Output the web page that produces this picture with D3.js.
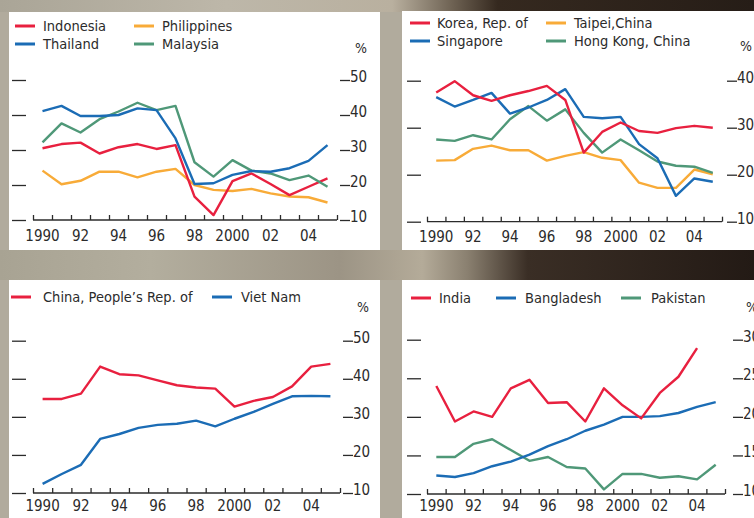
<!DOCTYPE html>
<html>
<head>
<meta charset="utf-8">
<script src="https://cdn.jsdelivr.net/npm/d3@7"></script>
<style>
  body { margin: 0; background: #b3ad9f; }
  svg { display: block; }
  text { font-family: "Liberation Sans Narrow", "DejaVu Sans Condensed", "Arial Narrow", sans-serif; fill: #2b2b2b; }
  .axis path, .axis line { stroke: #2b2b2b; stroke-width: 1.3; }
  .axis text { font-size: 15px; }
  .line { fill: none; stroke-width: 2.4; stroke-linejoin: round; }
</style>
</head>
<body>
<svg width="754" height="518"></svg>
<script>
var years = d3.range(1990, 2006);
var yearLabels = ["1990", "92", "94", "96", "98", "2000", "02", "04"];

// panel 1
var indonesia   = [30.5, 31.7, 32.1, 29.0, 30.8, 31.7, 30.3, 31.4, 16.7, 11.4, 21.1, 23.3, 20.3, 17.1, 19.5, 21.9];
var thailand    = [41.1, 42.6, 39.7, 39.7, 40.0, 41.9, 41.4, 33.3, 20.3, 20.5, 22.9, 24.0, 23.8, 24.8, 26.9, 31.4];
var philippines = [24.1, 20.2, 21.2, 23.8, 23.8, 22.2, 23.8, 24.6, 20.0, 18.6, 18.3, 18.9, 17.6, 16.7, 16.5, 15.0];
var malaysia    = [32.2, 37.6, 35.0, 38.8, 41.0, 43.5, 41.4, 42.6, 26.5, 22.4, 27.1, 24.1, 23.3, 21.4, 22.7, 19.5];
var ticks1 = [10, 20, 30, 40, 50];

// panel 2
var korea     = [37.5, 39.9, 36.9, 35.7, 36.9, 37.8, 38.9, 35.9, 24.7, 29.1, 31.1, 29.3, 28.9, 29.9, 30.4, 30.0];
var singapore = [36.5, 34.5, 35.9, 37.4, 33.0, 34.3, 35.9, 38.2, 32.3, 32.0, 32.3, 26.5, 23.5, 15.5, 19.2, 18.5];
var taipei    = [23.0, 23.1, 25.5, 26.2, 25.2, 25.2, 23.0, 24.0, 24.8, 23.6, 23.1, 18.3, 17.2, 17.2, 21.1, 20.1];
var hongkong  = [27.5, 27.2, 28.4, 27.5, 31.8, 34.6, 31.5, 33.9, 28.9, 24.7, 27.5, 25.2, 22.8, 21.9, 21.7, 20.4];
var ticks2 = [10, 20, 30, 40];

// panel 3
var china   = [34.7, 34.7, 36.1, 43.2, 41.2, 40.9, 39.6, 38.3, 37.7, 37.4, 32.7, 34.2, 35.2, 38.0, 43.2, 43.9];
var vietnam = [12.4, 15.0, 17.4, 24.2, 25.5, 27.1, 27.9, 28.2, 29.0, 27.5, 29.5, 31.3, 33.4, 35.4, 35.5, 35.4];
var ticks3 = [10, 20, 30, 40, 50];

// panel 4
var india      = [24.0, 19.4, 20.7, 20.0, 23.7, 24.8, 21.8, 21.9, 19.4, 23.7, 21.5, 19.8, 23.1, 25.2, 28.9, null];
var bangladesh = [12.4, 12.2, 12.7, 13.6, 14.2, 15.1, 16.2, 17.1, 18.2, 19.0, 20.0, 20.0, 20.1, 20.5, 21.3, 21.9];
var pakistan   = [14.8, 14.8, 16.5, 17.1, 15.7, 14.3, 14.8, 13.5, 13.3, 10.6, 12.6, 12.6, 12.1, 12.3, 11.9, 13.8];
var ticks4 = [10, 15, 20, 25, 30];

var red = "#e8203f", blue = "#1b6cb5", orange = "#f8ab38", green = "#4f9878";

var panels = [
  { box: [9, 12, 371, 238], x: [33, 337], y: [220, 80], lt: [12, 26], rt: 340, pct: [361, 53], yl: 241, ticks: ticks1,
    legend: [[15, 26, 43, "Indonesia", red, indonesia], [15, 44, 43, "Thailand", blue, thailand],
             [134, 26, 162, "Philippines", orange, philippines], [134, 44, 162, "Malaysia", green, malaysia]],
    order: [philippines, indonesia, malaysia, thailand] },
  { box: [402, 11, 352, 239], x: [427, 722], y: [221.7, 80.7], lt: [407, 421], rt: 727, pct: [746, 51], yl: 242, ticks: ticks2,
    legend: [[410, 23, 437, "Korea, Rep. of", red, korea], [410, 41, 437, "Singapore", blue, singapore],
             [546, 23, 574, "Taipei,China", orange, taipei], [546, 41, 574, "Hong Kong, China", green, hongkong]],
    order: [taipei, hongkong, singapore, korea] },
  { box: [9, 280, 371, 238], x: [33, 340], y: [493, 340.7], lt: [12, 26], rt: 343, pct: [363, 312], yl: 511, ticks: ticks3,
    legend: [[11, 297, 43, "China, People\u2019s Rep. of", red, china], [212, 297, 241, "Viet Nam", blue, vietnam]],
    order: [vietnam, china] },
  { box: [402, 280, 352, 238], x: [427, 725], y: [494, 339.7], lt: [407, 421], rt: 733, pct: [752, 312], yl: 511, ticks: ticks4,
    legend: [[411, 298, 439, "India", red, india], [496, 298, 525, "Bangladesh", blue, bangladesh],
             [621, 298, 651, "Pakistan", green, pakistan]],
    order: [pakistan, bangladesh, india] }
];

var svg = d3.select("svg");
var defs = svg.append("defs");

var g1 = defs.append("linearGradient").attr("id", "topStrip");
g1.append("stop").attr("offset", "0").attr("stop-color", "#aaa597");
g1.append("stop").attr("offset", "0.3").attr("stop-color", "#bdb7a9");
g1.append("stop").attr("offset", "0.52").attr("stop-color", "#b9b09f");
g1.append("stop").attr("offset", "0.6").attr("stop-color", "#6e6253");
g1.append("stop").attr("offset", "0.66").attr("stop-color", "#35291f");
g1.append("stop").attr("offset", "1").attr("stop-color", "#261d17");

var g2 = defs.append("linearGradient").attr("id", "midStrip");
g2.append("stop").attr("offset", "0").attr("stop-color", "#a8a393");
g2.append("stop").attr("offset", "0.2").attr("stop-color", "#b3ae9e");
g2.append("stop").attr("offset", "0.45").attr("stop-color", "#9c9485");
g2.append("stop").attr("offset", "0.56").attr("stop-color", "#b4ab99");
g2.append("stop").attr("offset", "0.62").attr("stop-color", "#8a8070");
g2.append("stop").attr("offset", "0.7").attr("stop-color", "#3a2e25");
g2.append("stop").attr("offset", "1").attr("stop-color", "#231a15");

svg.append("rect").attr("width", 754).attr("height", 518).attr("fill", "#b1ab9d");
svg.append("rect").attr("width", 754).attr("height", 12).attr("fill", "url(#topStrip)");
svg.append("rect").attr("y", 250).attr("width", 754).attr("height", 30).attr("fill", "url(#midStrip)");

panels.forEach(function(p) {
  var g = svg.append("g");
  g.append("rect")
      .attr("x", p.box[0]).attr("y", p.box[1])
      .attr("width", p.box[2]).attr("height", p.box[3])
      .attr("fill", "#fff");

  var x = d3.scaleLinear().domain([1989.5, 2005.5]).range(p.x),
      y = d3.scaleLinear().domain([p.ticks[0], p.ticks[p.ticks.length - 1]]).range(p.y);

  // legend
  p.legend.forEach(function(l) {
    g.append("line")
        .attr("x1", l[0]).attr("x2", l[0] + 20)
        .attr("y1", l[1]).attr("y2", l[1])
        .attr("stroke", l[4]).attr("stroke-width", 3);
    g.append("text")
        .attr("x", l[2]).attr("y", l[1])
        .attr("dy", "0.35em")
        .style("font-size", "14.5px")
        .text(l[3]);
  });

  // left marks without labels
  g.append("g")
      .attr("class", "axis")
      .attr("transform", "translate(" + p.lt[0] + ",0)")
      .call(d3.axisRight(y).tickValues(p.ticks).tickSize(p.lt[1] - p.lt[0]).tickFormat(""))
      .select(".domain").remove();

  // right axis with labels
  g.append("g")
      .attr("class", "axis")
      .attr("transform", "translate(" + p.rt + ",0)")
      .call(d3.axisRight(y).tickValues(p.ticks).tickSize(10).tickPadding(0))
      .call(function(a) { a.select(".domain").remove(); })
      .selectAll("text").attr("dy", "0.1em");

  g.append("text")
      .attr("x", p.pct[0]).attr("y", p.pct[1])
      .attr("text-anchor", "middle")
      .style("font-size", "14px")
      .text("%");

  // x axis: ticks at year boundaries
  var xa = g.append("g")
      .attr("class", "axis")
      .attr("transform", "translate(0," + p.y[0] + ")")
      .call(d3.axisTop(x).tickValues(d3.range(1989.5, 2006, 1)).tickSize(5).tickSizeOuter(0).tickFormat(""));
  xa.select(".domain").attr("d", "M" + p.x[0] + ",0H" + p.x[1]);

  g.selectAll(".yearLabel")
    .data(yearLabels)
    .enter().append("text")
      .attr("class", "yearLabel")
      .attr("x", function(d, i) { return x(1990 + 2 * i); })
      .attr("y", p.yl)
      .attr("text-anchor", "middle")
      .style("font-size", "15px")
      .text(function(d) { return d; });

  var line = d3.line()
      .defined(function(d) { return d != null; })
      .x(function(d, i) { return x(years[i]); })
      .y(function(d) { return y(d); });

  var colorOf = new Map(p.legend.map(function(l) { return [l[5], l[4]]; }));
  p.order.forEach(function(s) {
    g.append("path")
        .datum(s)
        .attr("class", "line")
        .attr("stroke", colorOf.get(s))
        .attr("d", line);
  });
});
</script>
</body>
</html>
